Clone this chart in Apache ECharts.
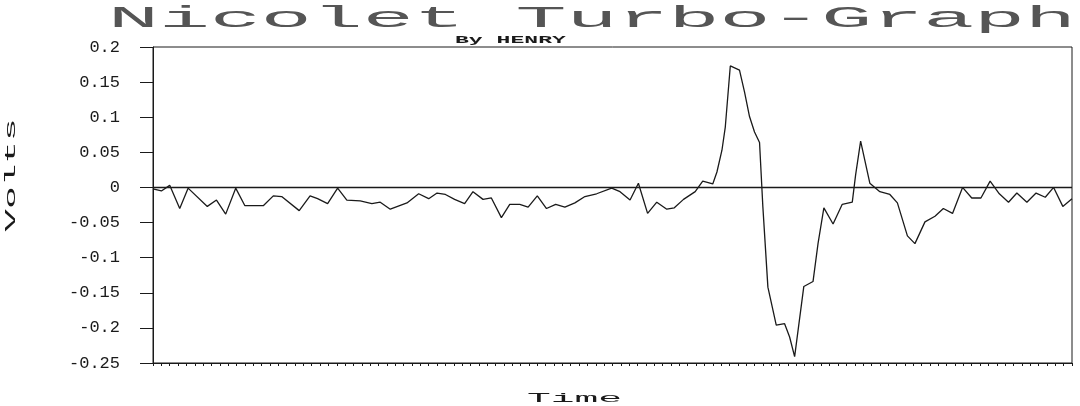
<!DOCTYPE html>
<html><head><meta charset="utf-8">
<script src="https://cdn.jsdelivr.net/npm/echarts@6/dist/echarts.min.js"></script>
<style>html,body{margin:0;padding:0;background:#fff}#c{width:1080px;height:406px}</style>
</head><body><div id="c"></div>
<script>
const titleText = 'Nicolet Turbo-Graph';
const subtitleText = 'By HENRY';
const xName = 'Time';
const yName = 'Volts';
const yMin = -0.25, yMax = 0.2, yStep = 0.05;
const tMin = 0, tMax = 110, tStep = 1;
const times = [0,1.0,2.0,3.2,4.2,6.5,7.6,8.7,9.9,11.0,13.2,14.4,15.4,17.5,18.8,19.7,20.9,22.1,23.2,24.8,26.2,27.2,28.4,30.4,31.8,33.0,34.0,35.0,36.1,37.3,38.3,39.5,40.5,41.7,42.7,43.9,44.9,46.0,47.1,48.2,49.3,50.5,51.7,53.1,54.9,55.9,57.1,58.1,59.2,60.3,61.5,62.4,63.5,64.9,65.8,67.0,67.5,68.1,68.5,69.1,70.2,70.8,71.4,72.0,72.6,73.0,73.6,74.6,75.6,76.2,76.8,77.9,79.0,79.6,80.3,81.4,82.5,83.7,84.1,84.7,85.8,87.0,88.2,89.1,90.3,91.2,92.4,93.6,94.6,95.7,96.9,98.0,99.1,100.2,101.3,102.4,103.4,104.6,105.7,106.8,107.8,108.9,110.0];
const volts = [-0.002,-0.005,0.003,-0.030,-0.001,-0.027,-0.018,-0.038,-0.001,-0.026,-0.026,-0.012,-0.013,-0.033,-0.012,-0.016,-0.023,-0.001,-0.018,-0.019,-0.023,-0.021,-0.031,-0.022,-0.009,-0.016,-0.008,-0.010,-0.017,-0.023,-0.006,-0.017,-0.015,-0.043,-0.024,-0.024,-0.028,-0.012,-0.030,-0.024,-0.028,-0.022,-0.013,-0.009,-0.001,-0.006,-0.018,0.006,-0.037,-0.021,-0.031,-0.029,-0.017,-0.006,0.009,0.005,0.022,0.053,0.086,0.173,0.167,0.136,0.101,0.079,0.064,-0.028,-0.142,-0.196,-0.194,-0.213,-0.241,-0.141,-0.134,-0.080,-0.029,-0.052,-0.024,-0.021,0.018,0.066,0.006,-0.006,-0.010,-0.022,-0.069,-0.080,-0.049,-0.041,-0.030,-0.037,0.000,-0.015,-0.015,0.009,-0.009,-0.021,-0.008,-0.021,-0.008,-0.014,0.000,-0.027,-0.016];

const ink = '#1a1a1a';
const mono = '"Liberation Mono", "DejaVu Sans Mono", monospace';
const chart = echarts.init(document.getElementById('c'));
const pairs = times.map((t, i) => [t, volts[i]]);

chart.setOption({
  animation: false,
  backgroundColor: '#fff',
  grid: { left: 153, right: 8, top: 47, bottom: 43, show: true, borderColor: ink, borderWidth: 1, backgroundColor: 'transparent' },
  graphic: [
    { type: 'text', x: 108, y: 4, scaleX: 2.83, style: { text: titleText, fontFamily: mono, fontSize: 30, fill: '#555', textAlign: 'left', textVerticalAlign: 'top' } },
    { type: 'text', x: 455, y: 35, scaleX: 2.1, style: { text: subtitleText, fontFamily: mono, fontSize: 11, fontWeight: 'bold', fill: ink, textAlign: 'left', textVerticalAlign: 'top' } },
    { type: 'text', x: 527, y: 393, scaleX: 3.3, style: { text: xName, fontFamily: mono, fontSize: 12, fill: ink, textAlign: 'left', textVerticalAlign: 'top' } },
    { type: 'text', x: 11, y: 175, rotation: Math.PI / 2, scaleX: 2.7, style: { text: yName, fontFamily: mono, fontSize: 14, fill: ink, textAlign: 'center', textVerticalAlign: 'middle' } }
  ],
  xAxis: {
    type: 'value', min: tMin, max: tMax, interval: tStep,
    axisLine: { show: true, onZero: false, lineStyle: { color: ink, width: 1 } },
    axisTick: { show: true, length: 3, lineStyle: { color: ink } },
    axisLabel: { show: false },
    splitLine: { show: false }
  },
  yAxis: {
    type: 'value', min: yMin, max: yMax, interval: yStep,
    axisLine: { show: true, lineStyle: { color: ink, width: 1 } },
    axisTick: { show: true, length: 13, lineStyle: { color: ink } },
    axisLabel: { margin: 33, fontFamily: mono, fontSize: 17, color: ink },
    splitLine: { show: false }
  },
  series: [{
    type: 'line', data: pairs, showSymbol: false, symbol: 'none',
    lineStyle: { color: ink, width: 1.3 },
    markLine: { silent: true, symbol: 'none', label: { show: false }, lineStyle: { color: ink, width: 1.3, type: 'solid' }, data: [{ yAxis: 0 }] }
  }]
});
</script></body></html>
